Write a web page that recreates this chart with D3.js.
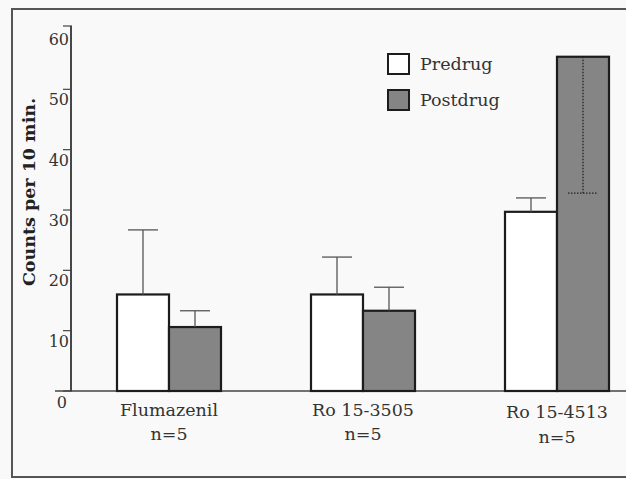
<!DOCTYPE html>
<html>
<head>
<meta charset="utf-8">
<script src="https://cdn.jsdelivr.net/npm/d3@7"></script>
<style>
  html, body { margin: 0; padding: 0; background: #f9f9f9; }
  svg { display: block; font-family: "DejaVu Serif", serif; }
</style>
</head>
<body>
<div id="chart"></div>
<script>
(function() {
    // data
    let drugs = ["Flumazenil", "Ro 15-3505", "Ro 15-4513"],
        nLabels = ["n=5", "n=5", "n=5"],
        series = ["Predrug", "Postdrug"],
        predrug = [16, 16, 29.7],
        postdrug = [10.6, 13.3, 55.4],
        predrugErr = [10.7, 6.2, 2.3],
        postdrugErr = [2.7, 3.9, 22.6],
        yTicks = [0, 10, 20, 30, 40, 50, 60];

    let w = 626,
        h = 479;

    let svg = d3.select("#chart")
        .append("svg")
        .attr("width", w)
        .attr("height", h);

    // scanned figure frame
    svg.append("path")
        .attr("d", "M" + w + ",9H12V477H" + w)
        .attr("fill", "none")
        .attr("stroke", "#555")
        .attr("stroke-width", 2);

    let x = d3.scalePoint().domain(drugs).range([72, 654]).padding(0.5);
    let xSub = d3.scaleBand().domain(series).range([-52, 52]);
    let y = d3.scaleLinear().domain([0, 60]).range([391, 29]);
    let fill = d3.scaleOrdinal().domain(series).range(["#ffffff", "#858585"]);

    let rows = [];
    drugs.forEach(function(d, i) {
        rows.push({drug: d, s: "Predrug", v: predrug[i], e: predrugErr[i]});
        rows.push({drug: d, s: "Postdrug", v: postdrug[i], e: postdrugErr[i]});
    });

    // baseline
    svg.append("line")
        .attr("x1", 55).attr("x2", w)
        .attr("y1", y(0)).attr("y2", y(0))
        .attr("stroke", "#444")
        .attr("stroke-width", 1.6);

    // y axis
    svg.append("line")
        .attr("x1", 71).attr("x2", 71)
        .attr("y1", y(60) - 3).attr("y2", y(0))
        .attr("stroke", "#333")
        .attr("stroke-width", 1.8);

    let ticks = svg.append("g").selectAll("g").data(yTicks).enter().append("g");
    ticks.append("line")
        .attr("x1", 63).attr("x2", 72)
        .attr("y1", function(d) { return y(d) - (d == 60 ? 3 : 0); })
        .attr("y2", function(d) { return y(d) - (d == 60 ? 3 : 0); })
        .attr("stroke", "#444")
        .attr("stroke-width", 1.2);
    ticks.append("text")
        .attr("x", function(d) { return d == 0 ? 67 : 69; })
        .attr("y", function(d) { return y(d) + (d == 0 ? 17 : 16); })
        .attr("text-anchor", "end")
        .attr("font-size", 16)
        .attr("fill", "#333")
        .text(function(d) { return d; });

    svg.append("text")
        .attr("transform", "translate(35,192) rotate(-90)")
        .attr("text-anchor", "middle")
        .attr("font-size", 17.5)
        .attr("font-weight", "bold")
        .attr("fill", "#222")
        .text("Counts per 10 min.");

    // bars
    svg.append("g").selectAll("rect").data(rows).enter().append("rect")
        .attr("x", function(d) { return x(d.drug) + xSub(d.s); })
        .attr("y", function(d) { return y(d.v); })
        .attr("width", xSub.bandwidth())
        .attr("height", function(d) { return y(0) - y(d.v); })
        .attr("fill", function(d) { return fill(d.s); })
        .attr("stroke", "#1c1c1c")
        .attr("stroke-width", 2.2);

    // error bars: upward, or downward (dotted) when it would run off the axis
    function tip(d) {
        return d.v + d.e > 60 ? d.v - d.e : d.v + d.e;
    }
    let err = svg.append("g").selectAll("g").data(rows).enter().append("g")
        .attr("transform", function(d) {
            return "translate(" + (x(d.drug) + xSub(d.s) + xSub.bandwidth() / 2) + ",0)";
        })
        .attr("stroke", function(d) { return d.v + d.e > 60 ? "#222" : "#555"; })
        .attr("stroke-dasharray", function(d) { return d.v + d.e > 60 ? "1.5,1.5" : null; })
        .attr("stroke-width", 1.3);
    err.append("line")
        .attr("y1", function(d) { return y(d.v); })
        .attr("y2", function(d) { return y(tip(d)); });
    err.append("line")
        .attr("x1", -15).attr("x2", 15)
        .attr("y1", function(d) { return y(tip(d)); })
        .attr("y2", function(d) { return y(tip(d)); });

    // category labels
    let labs = svg.append("g").selectAll("g").data(drugs).enter().append("g")
        .attr("transform", function(d) { return "translate(" + x(d) + ",0)"; })
        .attr("text-anchor", "middle")
        .attr("font-size", 17.5)
        .attr("fill", "#333");
    labs.append("text").attr("y", function(d, i) { return i == 2 ? 418 : 416; }).text(function(d) { return d; });
    labs.append("text").attr("y", function(d, i) { return i == 2 ? 443 : 440; }).text(function(d, i) { return nLabels[i]; });

    // legend
    let leg = svg.append("g").selectAll("g").data(series).enter().append("g")
        .attr("transform", function(d, i) { return "translate(388," + (54 + i * 36) + ")"; });
    leg.append("rect")
        .attr("width", 21).attr("height", 20)
        .attr("fill", function(d) { return fill(d); })
        .attr("stroke", "#1c1c1c")
        .attr("stroke-width", 2);
    leg.append("text")
        .attr("x", 32).attr("y", 16)
        .attr("font-size", 17.5)
        .attr("fill", "#333")
        .text(function(d) { return d; });
})();
</script>
</body>
</html>
